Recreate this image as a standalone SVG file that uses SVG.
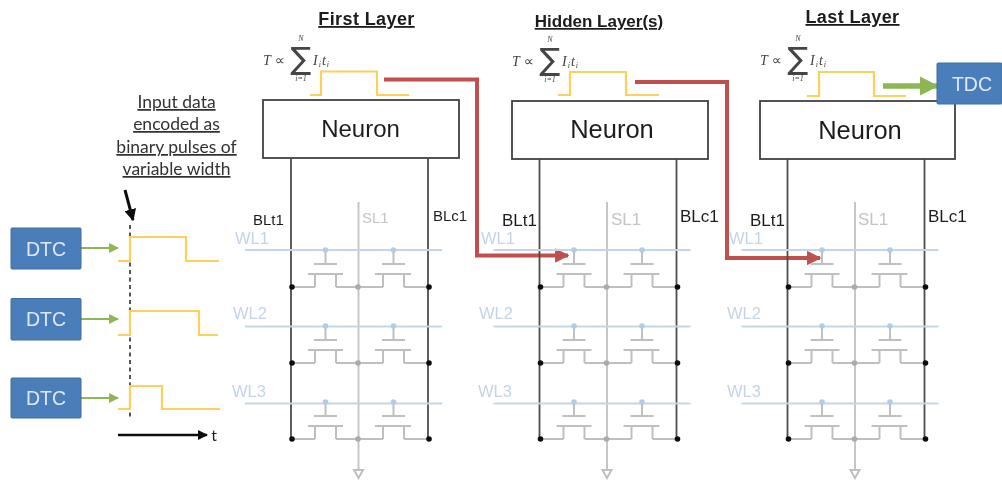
<svg xmlns="http://www.w3.org/2000/svg" width="1002" height="482" viewBox="0 0 1002 482">
<style>
text{font-family:"Liberation Sans",Arial,sans-serif}
.cal{font-family:Lato,"Open Sans",sans-serif;font-size:17.500px;fill:#333;text-anchor:middle;text-decoration:underline}
.title{font-weight:700;fill:#1a1a1a;text-anchor:middle;text-decoration:underline}
.math{font-family:"Liberation Serif",serif;font-style:italic;font-size:14px;fill:#444}
.prop{font-family:"DejaVu Sans",sans-serif;font-size:14px;fill:#444}
.mathS{font-family:"Liberation Serif",serif;font-style:italic;font-size:8px;fill:#444;text-anchor:middle}
.sum{font-family:"DejaVu Sans",sans-serif;font-size:31px;fill:#444;text-anchor:middle}
.neuron{fill:#fff;stroke:#404040;stroke-width:1.800}
.ntext{fill:#1f1f1f;text-anchor:middle}
.blue{fill:#4a7ebb;stroke:#41719c;stroke-width:1}
.btext{font-size:19.500px;fill:#dfe8f4;text-anchor:middle}
.pulse{fill:none;stroke:#fcd05c;stroke-width:2.200}
.green{fill:none;stroke:#8fb654;stroke-width:2.200}
.greenT{fill:none;stroke:#8fb654;stroke-width:5.500}
.red{fill:none;stroke:#c0504d;stroke-width:4}
.bl{stroke:#4d4d4d;stroke-width:1.800;fill:none}
.sl{stroke:#c6c6c6;stroke-width:2;fill:none}
.tr{stroke:#bfbfbf;stroke-width:2;fill:none}
.wl{stroke:#c5d5e8;stroke-width:2;fill:none}
.dotB{fill:#111}.dotG{fill:#aaa}.dotW{fill:#b4cbe6}
.lb{fill:#1f1f1f}.ls{fill:#c4c4c4}.lw{fill:#c3d4ea}
.s1{font-size:15px}.s2{font-size:17px}.s3{font-size:16.500px}
</style>
<defs>
<marker id="ag" viewBox="0 0 10 10" refX="9" refY="5" markerWidth="4.500" markerHeight="4.500" orient="auto"><path d="M0 0L10 5L0 10z" fill="#8fb654"/></marker>
<marker id="agT" viewBox="0 0 10 10" refX="9" refY="5" markerWidth="3.500" markerHeight="3.500" orient="auto"><path d="M0 0L10 5L0 10z" fill="#8fb654"/></marker>
<marker id="ar" viewBox="0 0 10 10" refX="9" refY="5" markerWidth="3.600" markerHeight="3.600" orient="auto"><path d="M0 0L10 5L0 10z" fill="#c0504d"/></marker>
<marker id="ak" viewBox="0 0 10 10" refX="9" refY="5" markerWidth="4" markerHeight="4" orient="auto"><path d="M0 0L10 5L0 10z" fill="#111"/></marker>
<filter id="soft" x="0" y="0" width="100%" height="100%"><feGaussianBlur stdDeviation="0.550"/></filter>
<g id="cell">
<path class="tr" d="M325.500 250V264M314 264H337M308 274H343M315 274V287M336 274V287M291 287H315M336 287H358"/>
<path class="tr" d="M393.500 250V264M382 264H405M375 274H411M383 274V287M404 274V287M358 287H383M404 287H428"/>
<circle class="dotW" cx="325.500" cy="250" r="2.800"/><circle class="dotW" cx="393.500" cy="250" r="2.800"/>
<circle class="dotB" cx="292" cy="287" r="2.800"/><circle class="dotB" cx="429" cy="287" r="2.800"/><circle class="dotG" cx="358" cy="287" r="2.800"/>
</g>
<g id="array">
<path class="bl" d="M291 158V438M428 158V438"/>
<path class="sl" d="M358.500 202V440"/><path class="sl" stroke-width="1.300" d="M358.500 440V470"/>
<path class="tr" stroke-width="1.300" d="M354 470H363L358.500 478Z"/>
<path class="wl" d="M245 250H442M245 326.500H442M245 403.500H442"/>
<use href="#cell"/><use href="#cell" y="76"/><use href="#cell" y="152"/>
</g>
<g id="formula">
<text class="math" x="263" y="65">T</text><text class="prop" x="275" y="65">∝</text><text class="sum" x="301" y="69">∑</text>
<text class="mathS" x="301" y="41">N</text><text class="mathS" x="301" y="81">i=1</text>
<text class="math" x="313" y="65" letter-spacing="1">I<tspan font-size="8" dy="2">i</tspan><tspan dy="-2">t</tspan><tspan font-size="8" dy="2">i</tspan></text>
</g>
</defs>
<g filter="url(#soft)">
<rect width="1002" height="482" fill="#fff"/>
<g id="connectors">
<path class="green" marker-end="url(#ag)" d="M81 248H118"/>
<path class="green" marker-end="url(#ag)" d="M81 319H118"/>
<path class="green" marker-end="url(#ag)" d="M81 398H118"/>
<path d="M130 225V418" fill="none" stroke="#555" stroke-width="2" stroke-dasharray="4 3.500"/>
<path d="M125 190L133 220" fill="none" stroke="#111" stroke-width="3" marker-end="url(#ak)"/>
<path d="M118 435H207" fill="none" stroke="#111" stroke-width="2.500" marker-end="url(#ak)"/>
<path class="red" marker-end="url(#ar)" d="M384 79.500H477V255.500H568"/>
<path class="red" marker-end="url(#ar)" d="M635 82H727V258H820"/>
<path class="greenT" marker-end="url(#agT)" d="M883 86H937"/>
</g>
<g id="pulses">
<path class="pulse" d="M118 261H130V237H186V261H219"/>
<path class="pulse" d="M118 335H130V311H199V335H218"/>
<path class="pulse" d="M118 409H130V386H162V409H220"/>
<path class="pulse" d="M310 95H321V71.500H377V95H409"/>
<path class="pulse" d="M558 95H570V72H626V95H659"/>
<path class="pulse" d="M807 96H819V72H874V96H906"/>
</g>
<g id="input-label">
<text class="cal" x="176.500" y="108">Input data</text><text class="cal" x="176.500" y="130">encoded as</text>
<text class="cal" x="176.500" y="153">binary pulses of</text><text class="cal" x="176.500" y="175">variable width</text>
<text x="214" y="441" font-size="16" fill="#222" text-anchor="middle" style="font-family:Lato,sans-serif">t</text>
</g>
<g id="dtc1"><rect class="blue" x="11" y="228" width="70" height="41" rx="1"/><text class="btext" x="46" y="255.500">DTC</text></g>
<g id="dtc2"><rect class="blue" x="11" y="298.500" width="70" height="41.500" rx="1"/><text class="btext" x="46" y="326">DTC</text></g>
<g id="dtc3"><rect class="blue" x="11" y="378" width="70" height="40" rx="1"/><text class="btext" x="46" y="405">DTC</text></g>
<g id="layer1">
<text class="title" font-size="18" letter-spacing=".4" x="366.500" y="25">First Layer</text>
<use href="#formula"/>
<rect class="neuron" x="263" y="100" width="196" height="58"/><text class="ntext" font-size="24" x="360.500" y="137">Neuron</text>
<use href="#array"/>
<text class="lb s1" x="253" y="225">BLt1</text><text class="lb s1" x="433" y="221">BLc1</text>
<text class="ls s1" x="362" y="223">SL1</text>
<text class="lw s3" x="235" y="244">WL1</text><text class="lw s3" x="233" y="319">WL2</text><text class="lw s3" x="232" y="397">WL3</text>
</g>
<g id="layer2">
<text class="title" font-size="17" x="599" y="27">Hidden Layer(s)</text>
<use href="#formula" x="249" y="1"/>
<rect class="neuron" x="512" y="101" width="196" height="58"/><text class="ntext" font-size="25.500" x="612" y="138">Neuron</text>
<use href="#array" x="248.500"/>
<text class="lb s2" x="502" y="226">BLt1</text><text class="lb s2" x="680" y="222">BLc1</text>
<text class="ls s2" x="611" y="225">SL1</text>
<text class="lw s3" x="481" y="244">WL1</text><text class="lw s3" x="479" y="319">WL2</text><text class="lw s3" x="478" y="397">WL3</text>
</g>
<g id="layer3">
<text class="title" font-size="18" letter-spacing=".4" x="852.500" y="23">Last Layer</text>
<use href="#formula" x="497"/>
<rect class="neuron" x="760" y="101" width="195" height="58"/><text class="ntext" font-size="25.500" x="860" y="139">Neuron</text>
<use href="#array" x="496.500"/>
<text class="lb s2" x="750" y="226">BLt1</text><text class="lb s2" x="928" y="222">BLc1</text>
<text class="ls s2" x="858" y="225">SL1</text>
<text class="lw s3" x="729" y="244">WL1</text><text class="lw s3" x="727" y="319">WL2</text><text class="lw s3" x="727" y="397">WL3</text>
</g>
<g id="tdc"><rect class="blue" x="937" y="63" width="65" height="41" rx="1"/><text class="btext" x="972" y="91">TDC</text></g>
</g>
</svg>
